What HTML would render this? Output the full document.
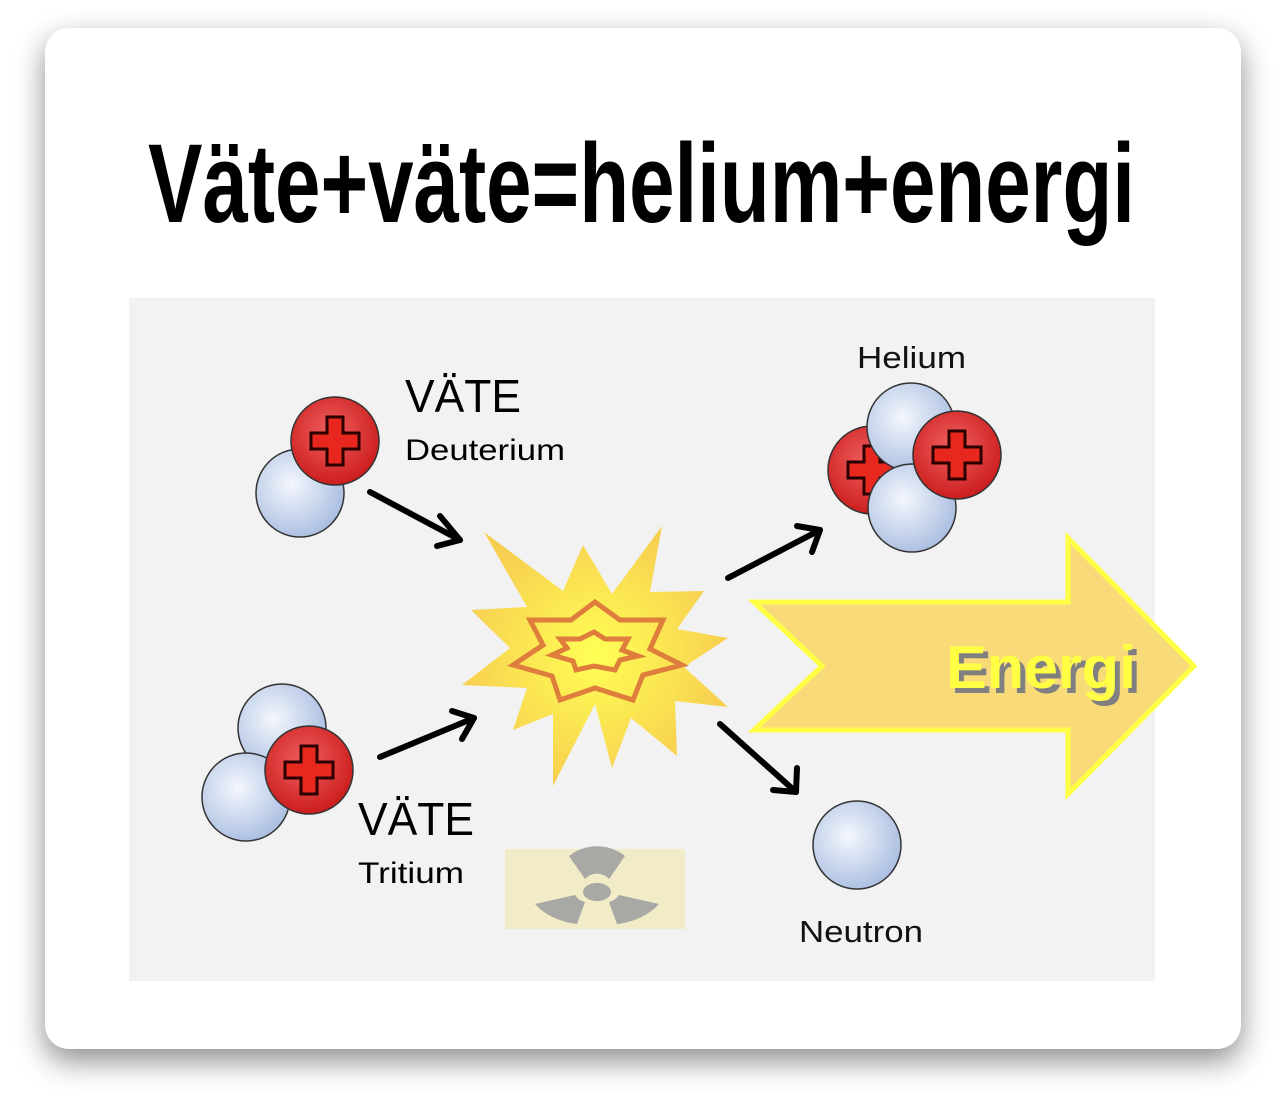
<!DOCTYPE html>
<html><head><meta charset="utf-8"><style>
html,body{margin:0;padding:0;background:#fff;width:1286px;height:1098px;overflow:hidden}
.card{position:absolute;left:45px;top:28px;width:1196px;height:1021px;background:#fff;border-radius:24px;box-shadow:0 12px 30px rgba(0,0,0,.45)}
svg{position:absolute;left:0;top:0}
</style></head><body>
<div class="card"></div>
<svg width="1286" height="1098" viewBox="0 0 1286 1098" font-family="Liberation Sans, DejaVu Sans, sans-serif">
<defs>
<radialGradient id="b" cx="0.4" cy="0.4" r="0.65"><stop offset="0" stop-color="#f4f7fd"/><stop offset="1" stop-color="#a9bde0"/></radialGradient>
<radialGradient id="r" cx="0.45" cy="0.4" r="0.65"><stop offset="0" stop-color="#f06060"/><stop offset="1" stop-color="#c91818"/></radialGradient>
<radialGradient id="y" cx="0.5" cy="0.5" r="0.5"><stop offset="0" stop-color="#ffff55"/><stop offset="1" stop-color="#f7cf50"/></radialGradient>
<g id="blue"><circle r="44" fill="url(#b)" stroke="#333" stroke-width="1.5"/></g>
<g id="red"><circle r="44" fill="url(#r)" stroke="#333" stroke-width="1.5"/><path d="M-8,-24h16v16h16v16h-16v16h-16v-16h-16v-16h16z" fill="#e8281f" stroke="#2a0000" stroke-width="3"/></g>
</defs>
<text x="148" y="222" font-size="112" font-weight="bold" textLength="987" lengthAdjust="spacingAndGlyphs" fill="#000">Väte+väte=helium+energi</text>
<rect x="129" y="298" width="1026" height="683" fill="#f2f2f2"/>
<polygon points="484,532 563,591 583,545 612,594 662,526 650,592 704,591 677,629 728,638 684,667 728,707 675,701 677,756 631,718 612,768 595,704 553,786 553,714 513,730 527,688 462,685 510,648 471,610 527,607" fill="url(#y)"/>
<polygon points="595,602 620,620 663,620 650,649 682,665 643,675 633,700 595,688 560,700 552,676 513,665 543,645 530,620 571,620" fill="none" stroke="#de7d3c" stroke-width="5"/>
<polygon points="594,632 605,639 628,639 622,650 638,656 620,660 615,670 594,666 576,670 573,661 552,655 567,648 560,639 580,639" fill="none" stroke="#de7d3c" stroke-width="5"/>
<polygon points="754,602 1068,602 1068,538 1194,666 1068,794 1068,730 754,730 822,666" fill="#f8da78" stroke="#ffff44" stroke-width="5"/>
<text x="951" y="693" font-size="60" font-weight="bold" fill="#808080" textLength="190" lengthAdjust="spacingAndGlyphs">Energi</text>
<text x="946" y="688" font-size="60" font-weight="bold" fill="#ffff44" textLength="190" lengthAdjust="spacingAndGlyphs">Energi</text>
<g stroke="#000" stroke-width="6" fill="none" stroke-linecap="round" stroke-linejoin="round">
<line x1="370" y1="492" x2="460" y2="540"/><polyline points="440,516 460,540 437,546"/>
<line x1="380" y1="757" x2="474" y2="718"/><polyline points="452,711 474,718 462,739"/>
<line x1="728" y1="578" x2="820" y2="530"/><polyline points="797,526 820,530 812,552"/>
<line x1="720" y1="724" x2="796" y2="792"/><polyline points="797,768 796,792 773,790"/>
</g>
<use href="#blue" x="300" y="493"/><use href="#red" x="335" y="441"/>
<use href="#blue" x="282" y="728"/><use href="#blue" x="246" y="797"/><use href="#red" x="309" y="770"/>
<use href="#red" x="872" y="470"/><use href="#blue" x="911" y="427"/><use href="#blue" x="912" y="508"/><use href="#red" x="957" y="455"/>
<use href="#blue" x="857" y="845"/>
<text x="405" y="412" font-size="46" fill="#000" textLength="116" lengthAdjust="spacingAndGlyphs">VÄTE</text>
<text x="405" y="460" font-size="30" fill="#000" textLength="160" lengthAdjust="spacingAndGlyphs">Deuterium</text>
<text x="358" y="835" font-size="46" fill="#000" textLength="116" lengthAdjust="spacingAndGlyphs">VÄTE</text>
<text x="358" y="883" font-size="30" fill="#000" textLength="106" lengthAdjust="spacingAndGlyphs">Tritium</text>
<text x="857" y="368" font-size="31" fill="#111" textLength="109" lengthAdjust="spacingAndGlyphs">Helium</text>
<text x="799" y="942" font-size="31" fill="#111" textLength="124" lengthAdjust="spacingAndGlyphs">Neutron</text>
<rect x="505" y="849" width="180" height="80" fill="#f1ebc8"/>
<g fill="#a8a8a4" transform="translate(597,892)">
<ellipse rx="14" ry="9"/>
<path d="M-28,-36 A45,45 0 0 1 28,-36 L12,-13 A16,16 0 0 0 -12,-13 Z"/>
<path d="M62,12 A62,45 0 0 1 20,32 L12,10 A16,16 0 0 0 22,3 Z"/>
<path d="M-62,12 A62,45 0 0 0 -20,32 L-12,10 A16,16 0 0 1 -22,3 Z"/>
</g>
</svg>
</body></html>
